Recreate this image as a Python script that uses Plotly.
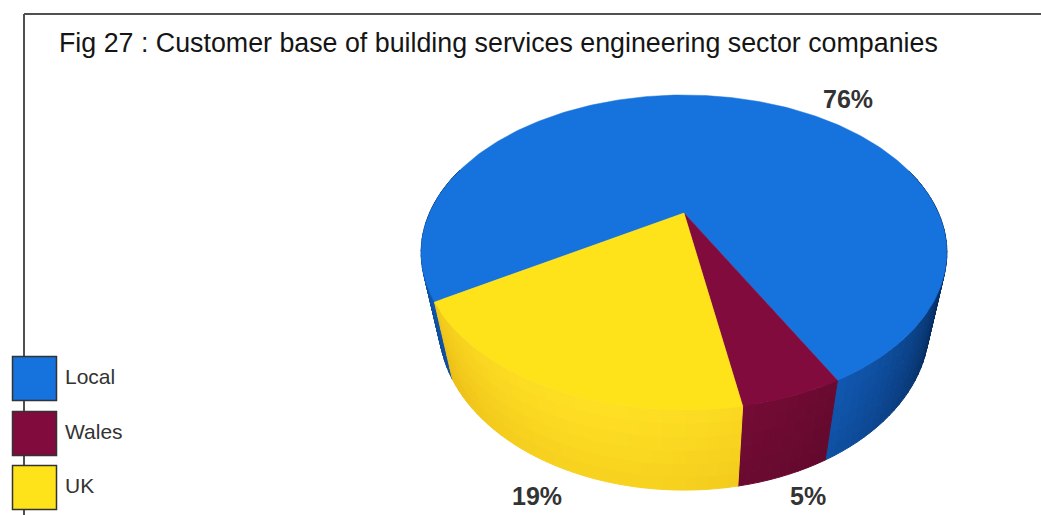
import numpy as np
import plotly.graph_objects as go

# ---- data -------------------------------------------------------------
categories = ["Local", "Wales", "UK"]
shares = [76, 5, 19]
value_labels = [f"{v}%" for v in shares]

# ---- styling ----------------------------------------------------------
top_colors = ["#1672dc", "#810b3c", "#ffe31a"]
side_dark = [(2, 30, 70), (55, 3, 23), (200, 128, 0)]
side_light = [(22, 108, 214), (122, 12, 56), (255, 224, 36)]
label_pos = [(848, 99), (808, 496), (537, 496)]      # where each % label sits
legend_y = [378.5, 433.5, 487.5]

W, H = 1041, 515
CX, CY = 684, 213          # screen position of the pie centre
FOC, DIST = 827.0, 3.25    # focal length and camera distance
SIN_T, COS_T = 0.58, 0.815 # camera tilt
DEPTH = 0.38               # pie thickness (radius = 1)
START = 211.6              # first slice starts here, slices run clockwise
LIGHT = 255.0              # direction the side light comes from
BANDS = 6                  # vertical shading bands on the wall


def project(theta_deg, height=0.0, r=1.0):
    th = np.radians(theta_deg)
    x = r * np.cos(th)
    z = r * np.sin(th)
    den = DIST - height * SIN_T + z * COS_T
    sx = FOC * x / den
    sy = FOC * (z * SIN_T + height * COS_T) / den
    return CX + sx, CY - sy


def mix(c0, c1, s):
    s = min(1.0, max(0.0, s))
    return "rgb({},{},{})".format(*[int(round(a + (b - a) * s)) for a, b in zip(c0, c1)])


# slice boundaries (clockwise)
bounds = []
acc = 0.0
total = float(sum(shares))
for v in shares:
    a0 = START - 360.0 * acc / total
    acc += v
    a1 = START - 360.0 * acc / total
    bounds.append((a1, a0))  # increasing order

fig = go.Figure()

# ---- side wall, painted back to front ----------------------------------
segments = []
for i, (lo, hi) in enumerate(bounds):
    n = max(1, int(np.ceil((hi - lo) / 2.0)))
    edges = np.linspace(lo, hi, n + 1)
    for a, b in zip(edges[:-1], edges[1:]):
        mid = 0.5 * (a + b)
        if np.sin(np.radians(mid)) > 0.3:
            continue
        segments.append((np.sin(np.radians(mid)), i, a, b, mid))

segments.sort(key=lambda s: -s[0])
for _, i, a, b, mid in segments:
    arc = np.linspace(a, b, 4)
    s = max(0.0, np.cos(np.radians(mid - LIGHT))) ** 0.9
    for k in range(BANDS):
        h0 = -DEPTH * k / BANDS
        h1 = -DEPTH * (k + 1) / BANDS
        tx, ty = project(arc, h0)
        bx, by = project(arc[::-1], h1)
        xs = np.concatenate([tx, bx, tx[:1]])
        ys = np.concatenate([ty, by, ty[:1]])
        frac = (k + 0.5) / BANDS
        col = mix(side_dark[i], side_light[i], s * (1.0 - 0.15 * frac))
        fig.add_trace(go.Scatter(
            x=xs, y=ys, mode="lines", fill="toself", fillcolor=col,
            line=dict(color=col, width=1), hoverinfo="skip", showlegend=False))

# ---- top faces ---------------------------------------------------------
for i, (lo, hi) in enumerate(bounds):
    arc = np.linspace(lo, hi, max(8, int(hi - lo)))
    ax, ay = project(arc, 0.0)
    xs = np.concatenate([[CX], ax, [CX]])
    ys = np.concatenate([[CY], ay, [CY]])
    fig.add_trace(go.Scatter(
        x=xs, y=ys, mode="lines", fill="toself", fillcolor=top_colors[i],
        line=dict(color=top_colors[i], width=0.5), hoverinfo="skip",
        showlegend=False, name=categories[i]))

# ---- legend boxes ------------------------------------------------------
fig.add_trace(go.Scatter(
    x=[34.5] * len(categories), y=legend_y, mode="markers",
    marker=dict(symbol="square", size=44, color=top_colors,
                line=dict(color="#333333", width=1.5)),
    hoverinfo="skip", showlegend=False))
fig.add_trace(go.Scatter(
    x=[65] * len(categories), y=legend_y, mode="text", text=categories,
    textposition="middle right",
    textfont=dict(family="Arial, Liberation Sans, sans-serif", size=21, color="#333333"),
    hoverinfo="skip", showlegend=False))

# ---- percentage labels -------------------------------------------------
for (px, py), txt in zip(label_pos, value_labels):
    fig.add_annotation(x=px, y=py, text=f"<b>{txt}</b>", showarrow=False,
                       xanchor="center", yanchor="middle",
                       font=dict(family="Arial, Liberation Sans, sans-serif",
                                 size=25, color="#333333"))

# ---- title -------------------------------------------------------------
fig.add_annotation(x=57, y=43, xref="x", yref="y",
                   text="Fig 27 : Customer base of building services engineering sector companies",
                   showarrow=False, xanchor="left", yanchor="middle",
                   font=dict(family="Arial, Liberation Sans, sans-serif", size=26.8, color="#151515"))

# ---- frame -------------------------------------------------------------
fig.add_shape(type="line", x0=24, y0=14, x1=W, y1=14, xref="x", yref="y",
              line=dict(color="#505050", width=2), layer="below")
fig.add_shape(type="line", x0=24, y0=14, x1=24, y1=H, xref="x", yref="y",
              line=dict(color="#505050", width=2), layer="below")

fig.update_layout(
    width=W, height=H, margin=dict(l=0, r=0, t=0, b=0),
    paper_bgcolor="white", plot_bgcolor="white", showlegend=False,
    xaxis=dict(range=[0, W], visible=False, fixedrange=True),
    yaxis=dict(range=[H, 0], visible=False, fixedrange=True),
)

fig.write_html("out.html")
